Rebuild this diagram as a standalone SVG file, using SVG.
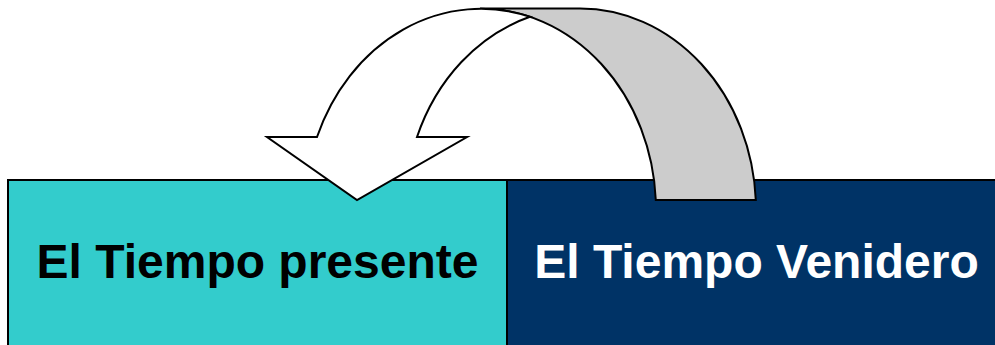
<svg xmlns="http://www.w3.org/2000/svg" width="995" height="345" viewBox="0 0 995 345">
<style>
.box{stroke:#000;stroke-width:2}
.lbl{font-family:"Liberation Sans",Arial,sans-serif;font-weight:bold;font-size:48px;text-anchor:middle}
.arr{stroke:#000;stroke-width:2;stroke-linejoin:miter}
</style>
<rect width="995" height="345" fill="#fff"/>
<g id="node-present">
<rect class="box" x="8" y="180" width="499" height="180" fill="#33CCCC"/>
<text class="lbl" x="257.5" y="278" fill="#000">El Tiempo presente</text>
</g>
<g id="node-venidero">
<rect class="box" x="507" y="180" width="500" height="180" fill="#003366"/>
<text class="lbl" x="756.5" y="278" fill="#fff">El Tiempo Venidero</text>
</g>
<g id="connectors">
<path class="arr" fill="#CCCCCC" d="M480,8.5 L580,8.5 A176,201.5 0 0 1 755.8,200 L655.8,200 A176,201.5 0 0 0 480,8.5 Z"/>
<path class="arr" fill="#FFFFFF" d="M317,137 A176,201.5 0 0 1 530,16.8 A176,201.5 0 0 0 417,137 L467,137 L357,200 L267,137 Z"/>
</g>
</svg>
